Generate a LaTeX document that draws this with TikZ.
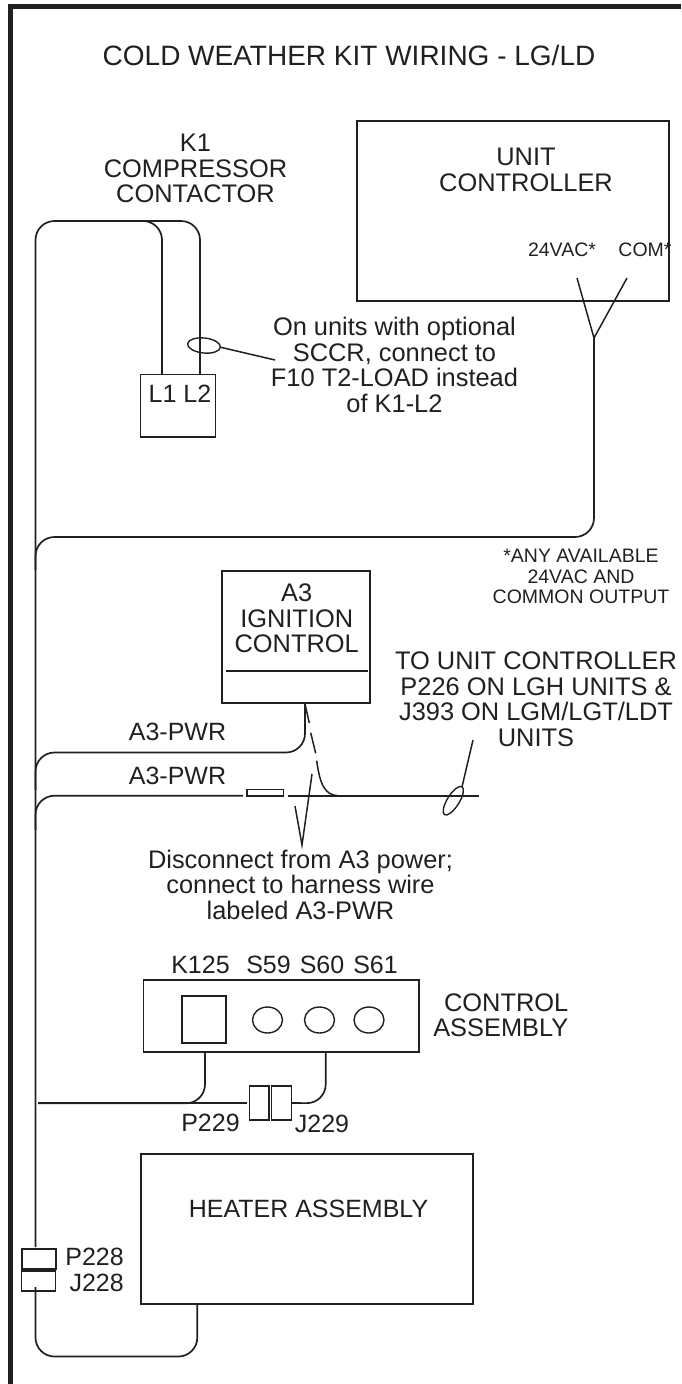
\documentclass[tikz,border=0pt]{standalone}
\usepackage{fontspec}
\setmainfont{Liberation Sans}
\usepackage{xcolor}
\usetikzlibrary{shapes.geometric, positioning}
\definecolor{ink}{HTML}{231F20}
\tikzset{
  wire/.style={draw=ink, line width=1.7pt, rounded corners=19pt},
  thinline/.style={draw=ink, line width=1.5pt},
  boxnode/.style={draw=ink, line width=1.2pt, rectangle, inner sep=0pt, outer sep=0pt, anchor=north west},
  clamp/.style={draw=ink, line width=1.4pt, ellipse, inner sep=0pt, outer sep=0pt},
  titlelbl/.style={text=ink, inner sep=0pt, font=\fontsize{28}{30}\selectfont},
  lbl/.style={text=ink, align=center, inner sep=0pt, font=\fontsize{25}{25.5}\selectfont},
  notelbl/.style={text=ink, align=center, inner sep=0pt, font=\fontsize{25.4}{25.5}\selectfont},
  smalllbl/.style={text=ink, align=center, inner sep=0pt, font=\fontsize{19.5}{20.5}\selectfont}
}
\begin{document}
\begin{tikzpicture}[x=1pt, y=-1pt]
        \useasboundingbox (0,0) rectangle (681,1384);
        % Marco
        \draw[draw=ink, line width=4.6pt] (10.3,1384) -- (10.3,6.5) -- (681,6.5);

        % Titulo
        \node[titlelbl] (title) at (349,55) {COLD WEATHER KIT WIRING - LG/LD};

        % Cajas
        \node[boxnode, minimum width=312pt, minimum height=180pt] (unitbox) at (357,121) {};
        \node[boxnode, minimum width=75pt, minimum height=62.5pt] (k1box) at (140.5,374.5) {};
        \node[boxnode, minimum width=148pt, minimum height=132pt] (a3box) at (222,571) {};
        \node[boxnode, minimum width=275.5pt, minimum height=72pt] (ctrlbox) at (143.5,980) {};
        \node[boxnode, minimum width=44pt, minimum height=47pt] (k125box) at (182,996) {};
        \node[boxnode, minimum width=332pt, minimum height=150pt] (heaterbox) at (141,1154) {};

        % Conectores
        \node[boxnode, minimum width=19.5pt, minimum height=34pt] (p229box) at (249.5,1086) {};
        \node[boxnode, minimum width=20pt, minimum height=34pt] (j229box) at (271.5,1086) {};
        \node[boxnode, minimum width=34pt, minimum height=20pt] (p228box) at (22,1249) {};
        \node[boxnode, minimum width=34pt, minimum height=20pt] (j228box) at (21.7,1271) {};
        \node[boxnode, minimum width=36.5pt, minimum height=6.5pt] (tabbox) at (247,789.5) {};

        % Interruptores
        \node[clamp, minimum width=30pt, minimum height=26pt] (s59) at (267.5,1020) {};
        \node[clamp, minimum width=30pt, minimum height=26pt] (s60) at (319.5,1020) {};
        \node[clamp, minimum width=30pt, minimum height=26pt] (s61) at (369,1020) {};

        % Abrazaderas
        \node[clamp, rotate=-6, minimum width=33pt, minimum height=15pt] (clampk) at (204,345.5) {};
        \node[clamp, rotate=58, minimum width=33pt, minimum height=12pt] (clampj) at (453.3,800.7) {};

        % Puntos de los cables
        \coordinate (trunktop) at (35.5,1247);
        \coordinate (trunkbot) at (35.5,1287);
        \coordinate (l1pin) at (162,374.5);
        \coordinate (l2pin) at (200,374.5);
        \coordinate (ysplit) at (594,338);
        \coordinate (ya) at (577,278);
        \coordinate (yb) at (627,278);
        \coordinate (a3pin) at (305,704);
        \coordinate (sccrtip) at (275,360);
        \coordinate (unittip) at (473,740);
        \coordinate (zigtop) at (312,774);
        \coordinate (zigbot) at (302,845);
        \coordinate (zigend) at (295,806);
        \coordinate (k125pin) at (205,1052);
        \coordinate (s61pin) at (325.7,1052);
        \coordinate (heaterpin) at (197.3,1304);

        % Cables
        \draw[wire] (trunktop) -- (35.5,221) -- (200,221) -- (l2pin);
        \draw[wire] (60,221) -- (162,221) -- (l1pin);
        \draw[wire] (ysplit) -- (594,537) -- (35.5,537) -- (35.5,570);
        \draw[thinline] (ya) -- (ysplit) -- (yb);
        \draw[wire] (a3pin) -- (305,752.5) -- (35.5,752.5) -- (35.5,790);
        \draw[wire] (243,795.7) -- (35.5,795.7) -- (35.5,830);
        \draw[thinline, line width=1.7pt] (288.3,795.7) -- (478.7,795.7);
        \draw[wire] (38,1103.3) -- (205,1103.3) -- (k125pin);
        \draw[thinline, line width=1.7pt] (38,1103.3) -- (247.3,1103.3);
        \draw[wire] (j229box.east) -- (325.7,1103.3) -- (s61pin);
        \draw[wire] (trunkbot) -- (35.5,1356.5) -- (197.3,1356.5) -- (heaterpin);

        % Cable punteado y notas
        \draw[thinline] (a3pin) -- (309.3,723);
        \draw[thinline] (310.7,732.7) -- (315.7,753.3);
        \draw[thinline] (316.7,760.7) .. controls (320,785) and (325,795) .. (338,795.7);
        \draw[thinline] (zigtop) -- (zigbot) -- (zigend);
        \draw[thinline] (clampk.east) -- (sccrtip);
        \draw[thinline] (unittip) -- (clampj.east);
        \draw[thinline, line width=1.9pt] (225.7,670.7) -- (368,670.7);

        % Textos
        \node[notelbl] (k1text) at (195.5,168.5) {K1\\COMPRESSOR\\CONTACTOR};
        \node[notelbl] (unittext) at (526,170) {UNIT\\CONTROLLER};
        \node[smalllbl] (vac) at (562,250) {24VAC*};
        \node[smalllbl] (com) at (645,250) {COM*};
        \node[notelbl] (sccrnote) at (394.5,365) {On units with optional\\SCCR, connect to\\F10 T2-LOAD instead\\of K1-L2};
        \node[lbl] (l1l2) at (180,393.5) {L1 L2};
        \node[smalllbl] (anynote) at (581,576.5) {*ANY AVAILABLE\\24VAC AND\\COMMON OUTPUT};
        \node[notelbl] (a3text) at (296.7,618.5) {A3\\IGNITION\\CONTROL};
        \node[notelbl] (unitnote) at (536,699) {TO UNIT CONTROLLER\\P226 ON LGH UNITS \&\\J393 ON LGM/LGT/LDT\\UNITS};
        \node[lbl] (pwra) at (177.5,732) {A3-PWR};
        \node[lbl] (pwrb) at (177.5,776) {A3-PWR};
        \node[notelbl] (disconnect) at (300.5,884.5) {Disconnect from A3 power;\\connect to harness wire\\labeled A3-PWR};
        \node[lbl] (k125text) at (200.5,964.7) {K125};
        \node[lbl] (s59text) at (268.5,964.7) {S59};
        \node[lbl] (s60text) at (322,964.7) {S60};
        \node[lbl] (s61text) at (375.5,964.7) {S61};
        \node[notelbl, align=right, anchor=east] (ctrltext) at (568.5,1015) {CONTROL\\ASSEMBLY};
        \node[lbl] (p229text) at (210.5,1122.7) {P229};
        \node[lbl] (j229text) at (322,1124) {J229};
        \node[lbl] (heatertext) at (308.5,1209) {HEATER ASSEMBLY};
        \node[lbl, anchor=east] (p228text) at (124,1257) {P228};
        \node[lbl, anchor=east] (j228text) at (124,1283) {J228};
\end{tikzpicture}
\end{document}
